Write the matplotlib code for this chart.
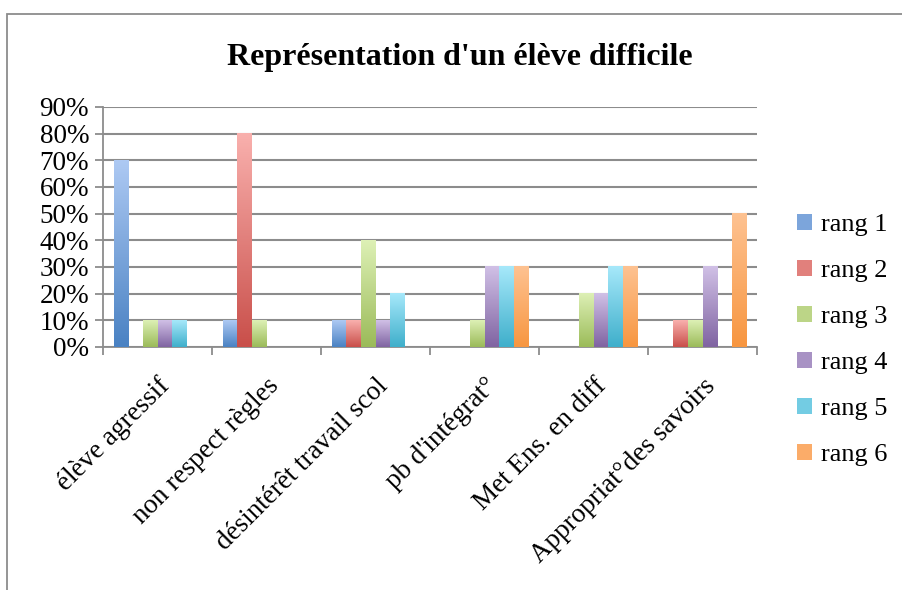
import numpy as np
import matplotlib.pyplot as plt
from matplotlib.patches import Rectangle
from matplotlib.colors import LinearSegmentedColormap, to_rgb
from matplotlib.ticker import FuncFormatter

categories = ["élève agressif", "non respect règles", "désintérêt travail scol",
              "pb d'intégrat°", "Met Ens. en diff", "Appropriat°des savoirs"]
series = ["rang 1", "rang 2", "rang 3", "rang 4", "rang 5", "rang 6"]
rang1 = [70, 10, 10, 0, 0, 0]
rang2 = [0, 80, 10, 0, 0, 10]
rang3 = [10, 10, 40, 10, 20, 10]
rang4 = [10, 0, 10, 30, 20, 30]
rang5 = [10, 0, 20, 30, 30, 0]
rang6 = [0, 0, 0, 30, 30, 50]
values = [rang1, rang2, rang3, rang4, rang5, rang6]

# (top, bottom) gradient colours, Excel 2007 style
grad = [("#adc9f3", "#4a82c3"), ("#f9b0ad", "#c94f4a"), ("#ddf0b5", "#9bbb59"),
        ("#d0c0e6", "#8064a2"), ("#a6e8fa", "#3fafcb"), ("#fec291", "#f79640")]

plt.rcParams['font.family'] = ['Liberation Serif', 'DejaVu Serif']

fig = plt.figure(figsize=(9.02, 5.9), dpi=100)
W, H = 902, 590
fig.patches.append(Rectangle((7 / W, -0.1), 1.2, (H - 14) / H + 0.1,
                             transform=fig.transFigure, fill=False,
                             edgecolor="#8c8c8c", linewidth=1.3))

ax = fig.add_axes([103 / W, 1 - 347 / H, (757 - 103) / W, (347 - 107) / H])

x = np.arange(len(categories))
w = 1 / 7.5
handles = []
for i, (vals, (ctop, cbot)) in enumerate(zip(values, grad)):
    pos = x - 2.5 * w + i * w
    bars = ax.bar(pos, vals, width=w, color=cbot, edgecolor="none", zorder=2,
                  label=series[i])
    cmap = LinearSegmentedColormap.from_list("g%d" % i, [cbot, ctop])
    for b in bars:
        if b.get_height() <= 0:
            continue
        x0, y0 = b.get_x(), b.get_y()
        ax.imshow(np.linspace(0, 1, 100).reshape(-1, 1), cmap=cmap, aspect="auto",
                  origin="lower", extent=(x0, x0 + b.get_width(), y0, y0 + b.get_height()),
                  zorder=3, interpolation="bilinear")
    handles.append(bars)

ax.set_xlim(-0.5, len(categories) - 0.5)
ax.set_ylim(0, 90)
ax.set_yticks(np.arange(0, 91, 10))
ax.yaxis.set_major_formatter(FuncFormatter(lambda v, p: "%d%%" % v))
ax.grid(axis="y", color="#8c8c8c", linewidth=1.5, zorder=1)
ax.set_axisbelow(True)

ax.set_xticks(x)
ax.set_xticklabels(categories, rotation=45, ha="right", rotation_mode="anchor",
                   fontsize=19.5)
ax.tick_params(axis="x", length=0, pad=19)
ax.set_xticks(np.arange(-0.5, len(categories)), minor=True)
ax.tick_params(axis="x", which="minor", length=6, color="#8c8c8c", width=1.3, direction="out")
ax.tick_params(axis="y", length=6, color="#8c8c8c", width=1.3, labelsize=19.5, pad=4)

for s in ["top", "right"]:
    ax.spines[s].set_visible(False)
for s in ["left", "bottom"]:
    ax.spines[s].set_color("#8c8c8c")
    ax.spines[s].set_linewidth(1.3)

fig.text(460 / W, 1 - 57 / H, "Représentation d'un élève difficile", ha="center",
         va="center", fontsize=23, fontweight="bold")

leg = fig.legend(handles=handles, labels=series, loc="center left",
                 bbox_to_anchor=(797 / W, 1 - 340 / H), frameon=False, fontsize=19,
                 handlelength=0.55, handleheight=0.55, labelspacing=0.9,
                 handletextpad=0.35, borderpad=0, borderaxespad=0)
for i, p in enumerate(leg.get_patches()):
    top, bot = np.array(to_rgb(grad[i][0])), np.array(to_rgb(grad[i][1]))
    p.set_facecolor(0.5 * top + 0.5 * bot)

fig.savefig("out.png", dpi=100)
